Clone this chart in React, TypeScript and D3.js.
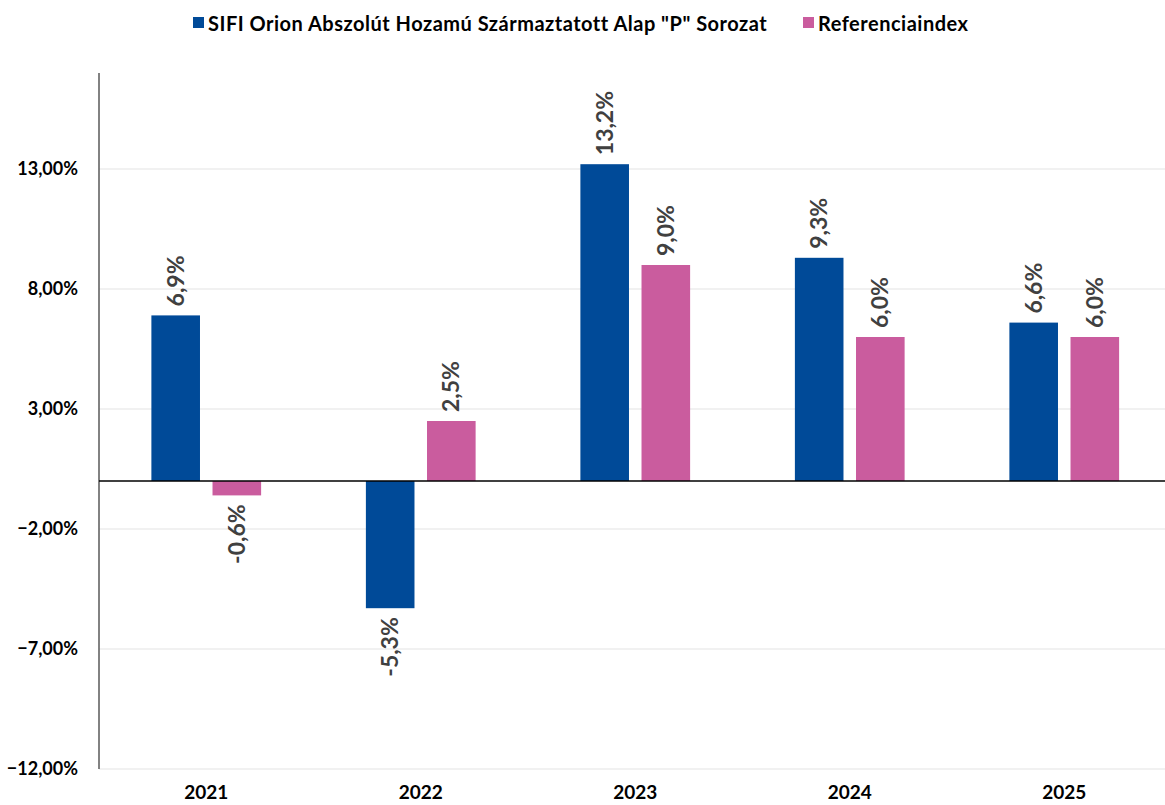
import React, { useEffect, useRef } from "react";
import * as d3 from "d3";

const years = ["2021", "2022", "2023", "2024", "2025"];
const fundValues = [6.9, -5.3, 13.2, 9.3, 6.6];
const indexValues = [-0.6, 2.5, 9.0, 6.0, 6.0];
const seriesNames = [
  'SIFI Orion Abszolút Hozamú Származtatott Alap "P" Sorozat',
  "Referenciaindex",
];
const seriesColors = ["#004A98", "#CA5C9E"];
const yTicks = [-12, -7, -2, 3, 8, 13];

const FONT = "Lato, 'Open Sans', sans-serif";

const drawChart = (svgEl: SVGSVGElement) => {
  const width = 1165;
  const height = 805;
  const margin = { top: 73, left: 99, bottom: 37 };

  const svg = d3.select(svgEl);
  svg.selectAll("*").remove();

  // scales
  const x0 = d3
    .scaleBand()
    .domain(years)
    .range([margin.left, margin.left + 5 * 214.5])
    .padding(0);

  const x1 = d3
    .scaleBand()
    .domain(seriesNames)
    .range([0, x0.bandwidth()])
    .paddingInner(0.205)
    .paddingOuter(0.857);

  const y = d3
    .scaleLinear()
    .domain([-12, 17])
    .range([height - margin.bottom + 1, margin.top]);

  // gridlines
  svg
    .append("g")
    .selectAll("line")
    .data(yTicks)
    .enter()
    .append("line")
    .attr("x1", margin.left)
    .attr("x2", width)
    .attr("y1", (d) => y(d))
    .attr("y2", (d) => y(d))
    .attr("stroke", "#e3e3e3")
    .attr("stroke-width", 1);

  // y axis labels
  svg
    .append("g")
    .selectAll("text")
    .data(yTicks)
    .enter()
    .append("text")
    .attr("x", 78)
    .attr("y", (d) => y(d) + 6)
    .attr("text-anchor", "end")
    .style("font-family", FONT)
    .style("font-size", "18px")
    .style("font-weight", "bold")
    .attr("fill", "#000")
    .text((d) => d3.format(".2f")(d).replace(".", ",") + "%");

  // left axis line
  svg
    .append("line")
    .attr("x1", margin.left)
    .attr("x2", margin.left)
    .attr("y1", margin.top)
    .attr("y2", y(-12))
    .attr("stroke", "#595959")
    .attr("stroke-width", 1.5);

  const rows = years.map((yr, i) => ({
    year: yr,
    values: [fundValues[i], indexValues[i]],
  }));

  const groups = svg
    .append("g")
    .selectAll("g")
    .data(rows)
    .enter()
    .append("g")
    .attr("transform", (d) => `translate(${x0(d.year)},0)`);

  // bars
  groups
    .selectAll("rect")
    .data((d) => d.values.map((v, j) => ({ v, j })))
    .enter()
    .append("rect")
    .attr("x", (d) => x1(seriesNames[d.j])!)
    .attr("width", x1.bandwidth())
    .attr("y", (d) => y(Math.max(0, d.v)))
    .attr("height", (d) => Math.abs(y(d.v) - y(0)))
    .attr("fill", (d) => seriesColors[d.j]);

  // data labels (rotated)
  groups
    .selectAll("text")
    .data((d) => d.values.map((v, j) => ({ v, j })))
    .enter()
    .append("text")
    .attr("transform", (d) => {
      const cx = x1(seriesNames[d.j])! + x1.bandwidth() / 2 + 8;
      const cy = d.v >= 0 ? y(d.v) - 9 : y(d.v) + 9;
      return `translate(${cx},${cy}) rotate(-90)`;
    })
    .attr("text-anchor", (d) => (d.v >= 0 ? "start" : "end"))
    .style("font-family", FONT)
    .style("font-size", "23px")
    .style("font-weight", "bold")
    .attr("fill", "#404040")
    .text((d) => d.v.toFixed(1).replace(".", ",") + "%");

  // zero line
  svg
    .append("line")
    .attr("x1", margin.left)
    .attr("x2", width)
    .attr("y1", y(0))
    .attr("y2", y(0))
    .attr("stroke", "#000")
    .attr("stroke-width", 1.5);

  // category labels
  svg
    .append("g")
    .selectAll("text")
    .data(years)
    .enter()
    .append("text")
    .attr("x", (d) => x0(d)! + x0.bandwidth() / 2)
    .attr("y", 799)
    .attr("text-anchor", "middle")
    .style("font-family", FONT)
    .style("font-size", "19px")
    .style("font-weight", "bold")
    .attr("fill", "#000")
    .text((d) => d);

  // legend
  const legendX = [193, 803];
  const legend = svg
    .append("g")
    .selectAll("g")
    .data(seriesNames)
    .enter()
    .append("g")
    .attr("transform", (d, i) => `translate(${legendX[i]},17)`);

  legend
    .append("rect")
    .attr("width", 11)
    .attr("height", 11)
    .attr("fill", (d, i) => seriesColors[i]);

  legend
    .append("text")
    .attr("x", 15)
    .attr("y", 14)
    .style("font-family", FONT)
    .style("font-size", "20px")
    .style("font-weight", "bold")
    .style("letter-spacing", "0.5px")
    .attr("fill", "#000")
    .text((d) => d);
};

export default function App() {
  const svgRef = useRef<SVGSVGElement>(null);

  useEffect(() => {
    if (svgRef.current) drawChart(svgRef.current);
  }, []);

  return (
    <svg
      ref={svgRef}
      width={1165}
      height={805}
      style={{ position: "absolute", left: 0, top: 0, background: "#fff" }}
    ></svg>
  );
}
